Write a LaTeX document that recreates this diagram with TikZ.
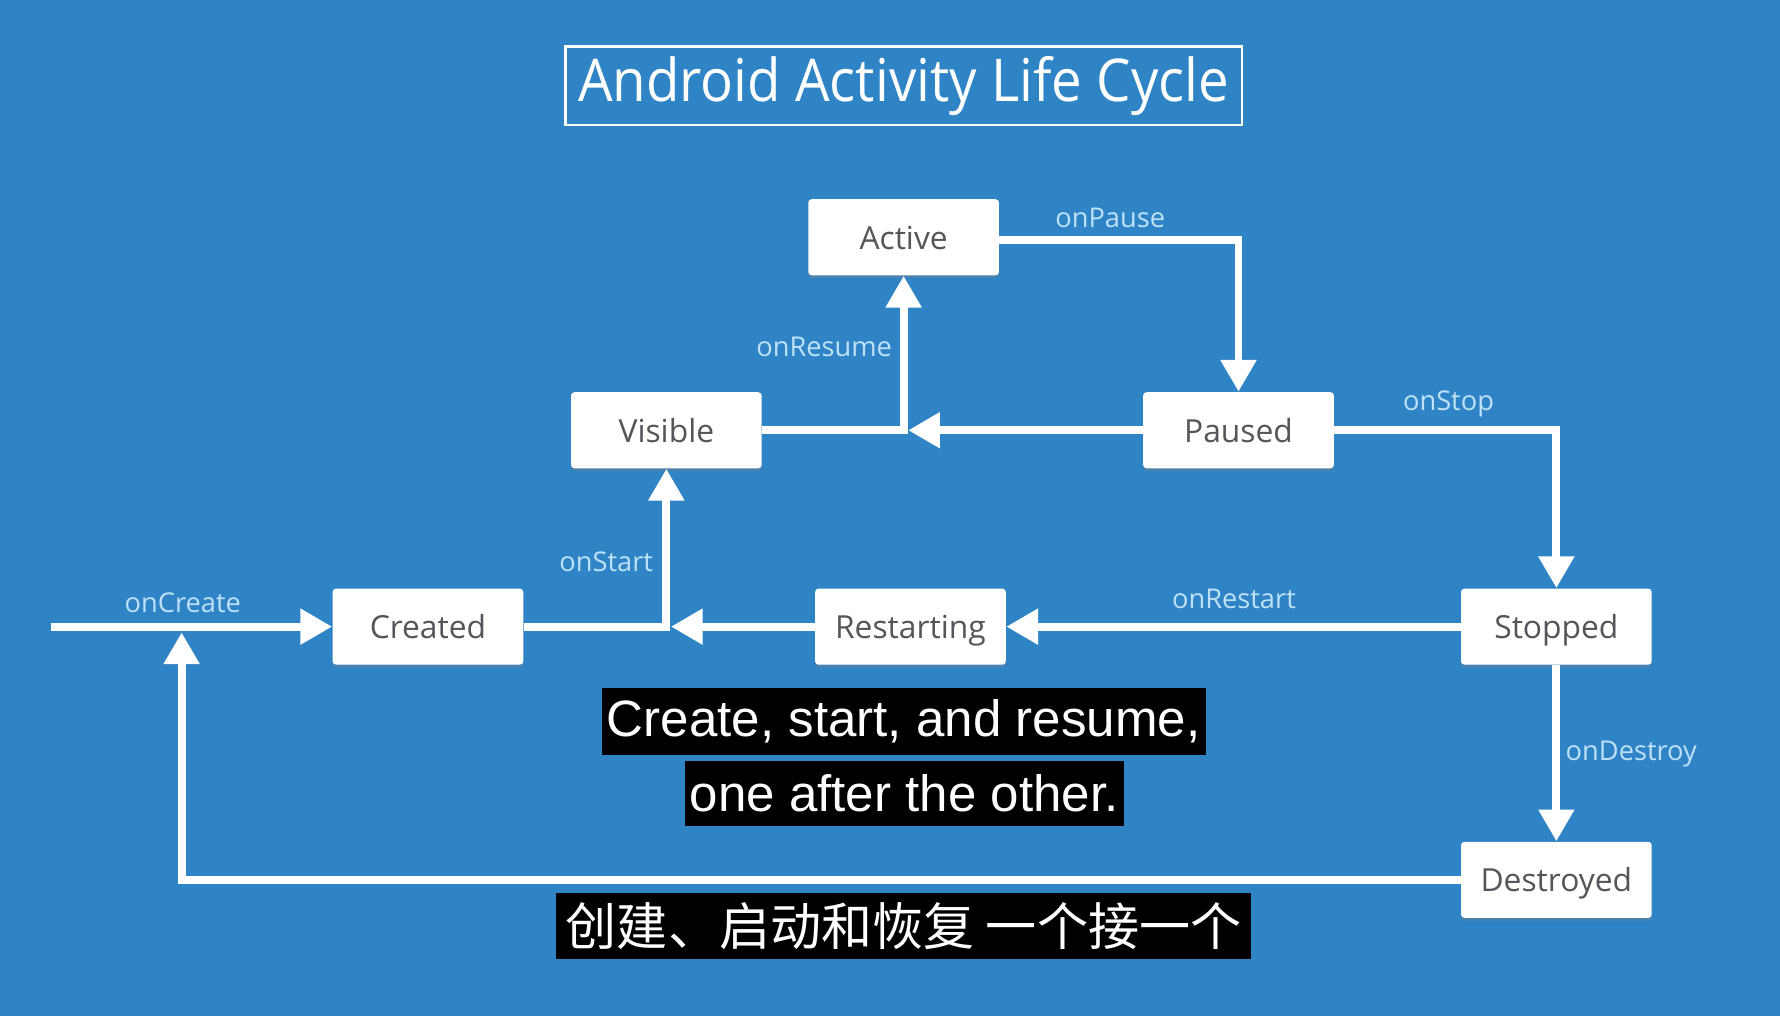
\documentclass[tikz,border=0pt]{standalone}
\usepackage{fontspec}
\setmainfont{Open Sans}
\newfontfamily\subfont{Liberation Sans}
\newfontfamily\cjk{Noto Sans CJK SC}
\usetikzlibrary{arrows.meta,shadows}
\definecolor{bg}{RGB}{47,132,198}
\definecolor{lbl}{RGB}{190,224,248}
\definecolor{boxtxt}{RGB}{85,85,90}
\begin{document}
\begin{tikzpicture}[x=0.5pt,y=-0.5pt,
 state/.style={fill=white, rounded corners=1.5pt, minimum width=84pt, minimum height=33.5pt, text=boxtxt, font=\fontsize{14}{16}\selectfont, inner sep=0pt, text height=10.5pt, text depth=0pt, drop shadow={shadow xshift=0pt,shadow yshift=-1.2pt,opacity=0.35}},
 flow/.style={draw=white, line width=3.5pt, -{Triangle[width=15pt,length=14pt]}},
 lab/.style={text=lbl, font=\fontsize{12}{14}\selectfont, inner sep=0pt},
 sub/.style={fill=black, text=white, inner sep=0pt, font=\subfont\fontsize{22.5}{26}\selectfont}
]
\fill[bg] (0,0) rectangle (1568,895);
\useasboundingbox (0,0) rectangle (1568,895);

% title
\node[draw=white, line width=1.2pt, minimum width=298pt, minimum height=34.5pt, text=white, inner sep=0pt] (title) at (796,75.5)
  {\scalebox{0.925}[1]{\fontsize{26}{30}\selectfont Android Activity Life Cycle}};

% states
\node[state] (active) at (796,209) {Active};
\node[state] (visible) at (587,379) {Visible};
\node[state] (paused) at (1091,379) {Paused};
\node[state] (created) at (377,552) {Created};
\node[state] (restart) at (802,552) {Restarting};
\node[state] (stopped) at (1371,552) {Stopped};
\node[state] (destroyed) at (1371,775) {Destroyed};

% free ends
\coordinate (start) at (45,552);
\coordinate (jv) at (800,379);
\coordinate (jc) at (591,552);
\coordinate (jd) at (160,557);

% connectors
\draw[flow] (start) -- (created.west);
\draw[flow] (created.east) -| (visible.south);
\draw[flow] (visible.east) -| (active.south);
\draw[flow] ([yshift=-1pt]active.east) -| (paused.north);
\draw[flow] (paused.west) -- (jv);
\draw[flow] (paused.east) -| (stopped.north);
\draw[flow] (stopped.west) -- (restart.east);
\draw[flow] (restart.west) -- (jc);
\draw[flow] (stopped.south) -- (destroyed.north);
\draw[flow] (destroyed.west) -| (jd);

% labels
\node[lab] (lpause) at (978,192) {onPause};
\node[lab] (lresume) at (726,306) {onResume};
\node[lab] (lstop) at (1276,356) {onStop};
\node[lab] (lstart) at (534,495) {onStart};
\node[lab] (lrestart) at (1087,528) {onRestart};
\node[lab] (lcreate) at (161,531) {onCreate};
\node[lab] (ldestroy) at (1437,664) {onDestroy};

% subtitles
\node[sub, minimum width=266pt, minimum height=29.5pt] (s1) at (796,635.5) {Create, start, and resume,};
\node[sub, minimum width=193.5pt, minimum height=29pt] (s2) at (796.5,699) {one after the other.};
\node[sub, minimum width=306pt, minimum height=29pt, font=\cjk\fontsize{22.5}{26}\selectfont] (s3) at (796,816) {创建、启动和恢复 一个接一个};
\end{tikzpicture}
\end{document}
